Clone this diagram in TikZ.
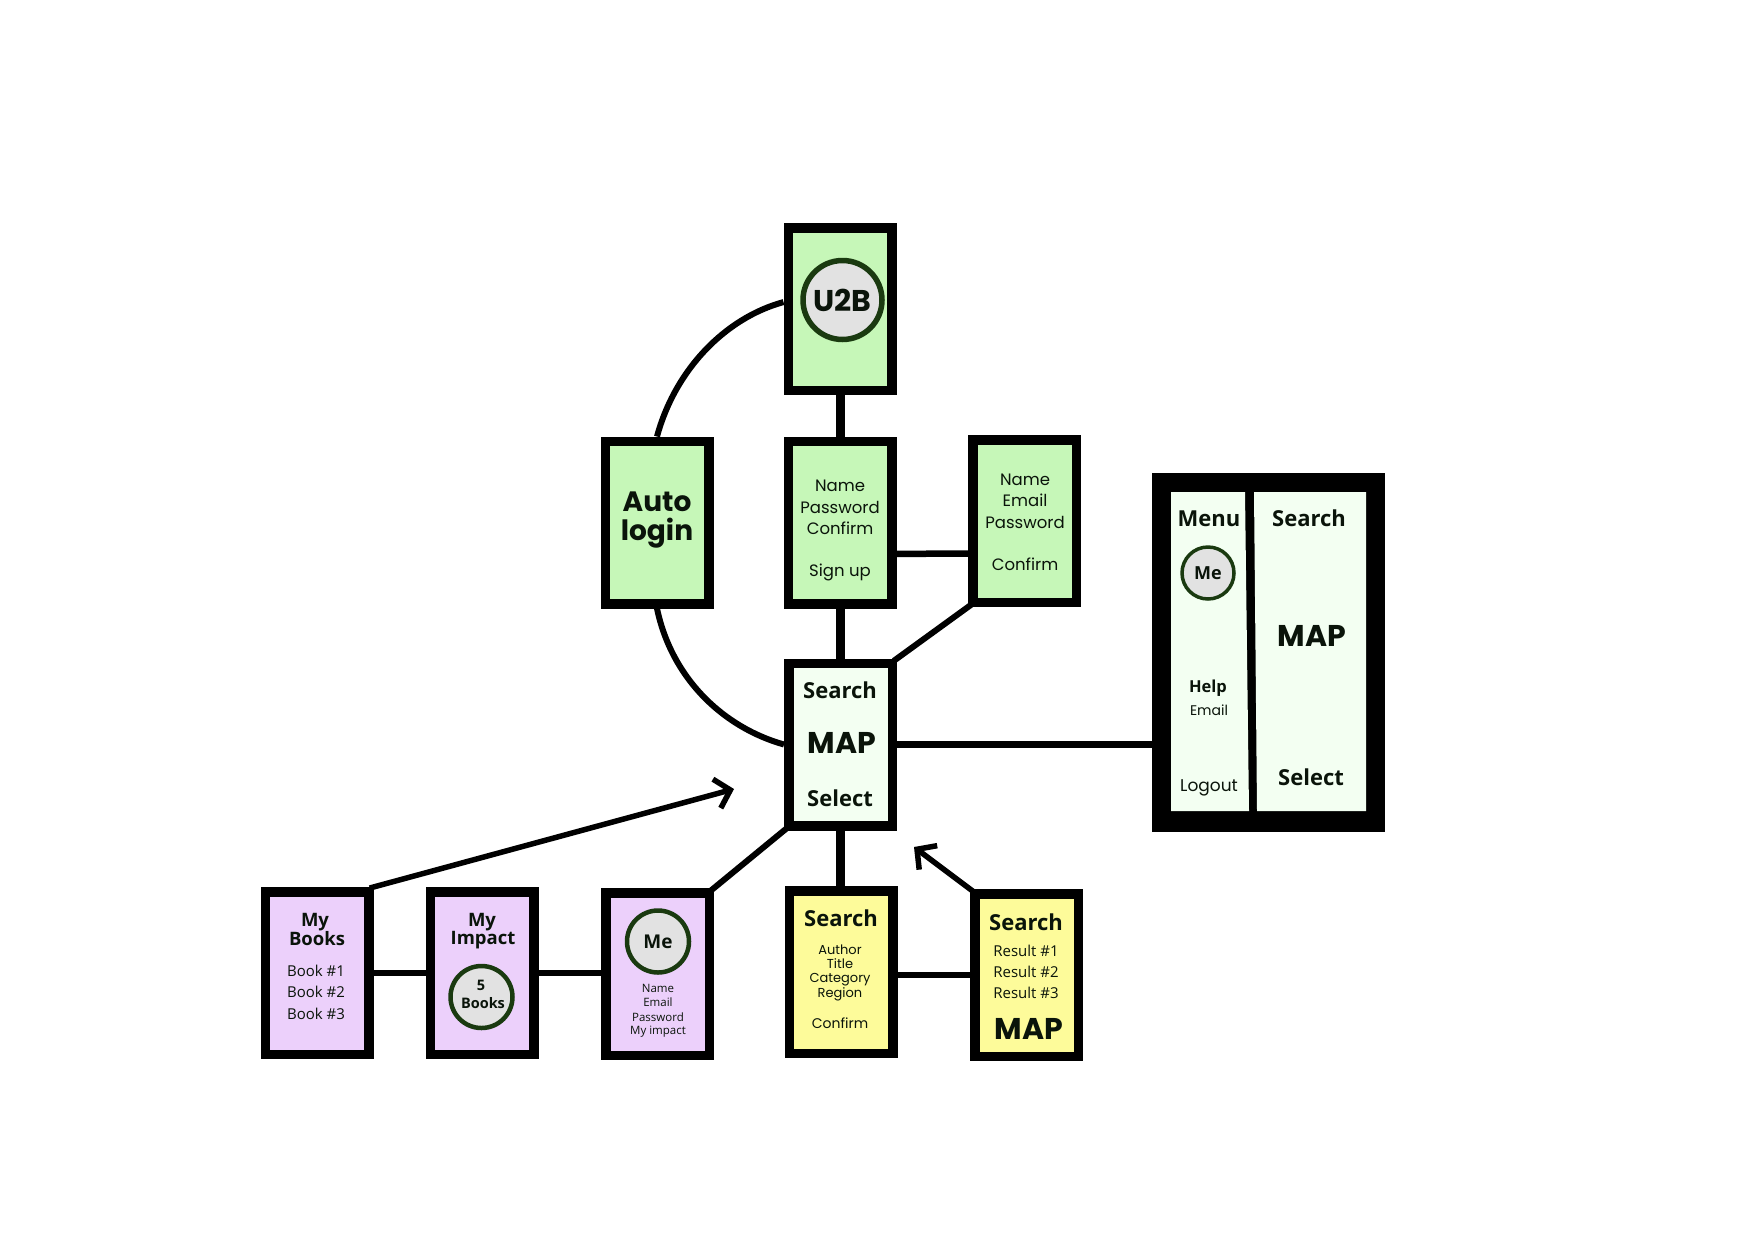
\documentclass[tikz,border=0pt]{standalone}
\usepackage{fontspec}
\setmainfont{Open Sans}
\newfontfamily\geo{Poppins}
\newfontfamily\opn{Open Sans}
\usetikzlibrary{backgrounds,arrows.meta}
\definecolor{cgreen}{HTML}{C6F7B8}
\definecolor{cpale}{HTML}{F3FFF2}
\definecolor{cpurple}{HTML}{ECD0FB}
\definecolor{cyellow}{HTML}{FDFB9A}
\definecolor{cring}{HTML}{1A3A10}
\definecolor{cdisc}{HTML}{E2E2E2}
\definecolor{cink}{HTML}{0A140A}
\tikzset{
  x=1pt,y=-1pt,
  screen/.style={draw=black,line width=9.5pt,minimum width=103.5pt,minimum height=162.5pt,inner sep=0pt,fill=#1},
  disc/.style={circle,draw=cring,fill=cdisc,inner sep=0pt,line width=#1},
  txt/.style={inner sep=0pt,text=cink},
  geol/.style={txt,font=\geo\fontsize{#1}{#1}\selectfont},
  geob/.style={txt,font=\geo\bfseries\fontsize{#1}{#1}\selectfont},
  opnl/.style={txt,font=\opn\fontsize{#1}{#1}\selectfont},
  opnh/.style={txt,font=\opn\bfseries\fontsize{#1}{#1}\selectfont},
  thick link/.style={draw=black,line width=9pt},
  thin link/.style={draw=black,line width=6.5pt},
  slant link/.style={draw=black,line width=6pt,shorten >=-4pt,shorten <=-4pt},
  curve link/.style={draw=black,line width=6pt},
  arrow link/.style={draw=black,line width=5.5pt,shorten <=-4pt,-{Straight Barb[length=14pt,width=30pt,line width=5.5pt]}},
}
\begin{document}
\begin{tikzpicture}
\useasboundingbox (0,0) rectangle (1753,1240);
% screens
\node[screen=cgreen]  (u2b)   at (840,309) {};
\node[screen=cgreen]  (auto)  at (657,522.5) {};
\node[screen=cgreen]  (name)  at (840,522.5) {};
\node[screen=cgreen]  (email) at (1024.5,521) {};
\node[screen=cpale]   (map)   at (840.5,744.5) {};
\node[screen=cyellow] (srch)  at (841,972) {};
\node[screen=cyellow] (res)   at (1026.5,975) {};
\node[screen=cpurple] (books) at (317,973) {};
\node[screen=cpurple] (impact) at (482,973) {};
\node[screen=cpurple] (me)    at (657.5,974) {};
\node[draw=black,fill=black,line width=0pt,minimum width=232pt,minimum height=358pt,inner sep=0pt] (big) at (1268,652) {};
\fill[cpale] (1171,492) -- (1245,492) -- (1249,811) -- (1171,811) -- cycle;
\fill[cpale] (1254,492) -- (1366,492) -- (1366,811) -- (1257,811) -- cycle;
% free arrow ends
\coordinate (tipa) at (734,789);
\coordinate (tipb) at (914,847);
% connectors
\begin{scope}[on background layer]
\draw[thick link] (u2b.south) -- (name.north);
\draw[thick link] (name.south) -- (name.south |- map.north);
\draw[thick link] (map.south) -- (map.south |- srch.north);
\draw[thin link] (name.-29.5) -- (email.-150);
\draw[slant link] (email.south west) -- (map.north east);
\draw[thin link] (map.east) -- (big.west |- map.east);
\draw[slant link] (map.south west) -- (me.north east);
\draw[thin link] (books.east) -- (impact.west);
\draw[thin link] (impact.east) -- (impact.east -| me.west);
\draw[thin link] (srch.east |- res.west) -- (res.west);
\draw[curve link] (auto.north) .. controls (675,370) and (725,318) .. (u2b.173);
\draw[curve link] (auto.south) .. controls (672,680) and (725,728) .. (map.west);
\draw[arrow link] (books.north east) -- (tipa);
\draw[arrow link] (res.north west) -- (tipb);
\end{scope}
% discs
\node[disc=5.5pt,minimum size=79pt,geob=30] (du2b) at (842.5,300) {U2B};
\node[disc=4.5pt,minimum size=62pt,opnh=19] (dme) at (658,941.5) {Me};
\node[disc=4.5pt,minimum size=62pt] (dbooks) at (481.5,997) {};
\node[disc=3.5pt,minimum size=52pt,opnh=18] (dbig) at (1208,573) {Me};
% auto login
\node[geob=28] (t1) at (657,502) {Auto};
\node[geob=28] (t2) at (657,533) {login};
% name
\node[geol=16.5] (t3) at (840,486) {Name};
\node[geol=16.5] (t4) at (840,507) {Password};
\node[geol=16.5] (t5) at (840,528) {Confirm};
\node[geol=16.5] (t6) at (840,572) {Sign up};
% email
\node[geol=16.5] (t7) at (1025,480) {Name};
\node[geol=16.5] (t8) at (1025,500) {Email};
\node[geol=16.5] (t9) at (1025,522) {Password};
\node[geol=16.5] (t10) at (1025,564) {Confirm};
% map
\node[opnh=22] (t11) at (840,690) {Search};
\node[geob=30] (t12) at (842,743) {MAP};
\node[opnh=22] (t13) at (840,798) {Select};
% search form
\node[geol=13] (t15) at (840,950) {Author};
\node[opnh=22] (t14) at (841,918) {Search};
\node[geol=13] (t16) at (840,964) {Title};
\node[geol=13] (t17) at (840,980) {Category};
\node[geol=13] (t18) at (840,994) {Region};
\node[geol=14] (t19) at (840,1023) {Confirm};
% results
\node[opnh=22] (t20) at (1026,922) {Search};
\node[opnl=15] (t21) at (1026,951) {Result \#1};
\node[opnl=15] (t22) at (1026,972) {Result \#2};
\node[opnl=15] (t23) at (1026,993) {Result \#3};
\node[geob=30] (t24) at (1029,1029) {MAP};
% my books
\node[opnh=18.5] (t25) at (315,922) {My};
\node[opnh=18.5] (t26) at (317,939) {Books};
\node[opnl=15] (t27) at (316,971) {Book \#1};
\node[opnl=15] (t28) at (316,992) {Book \#2};
\node[opnl=15] (t29) at (316,1014) {Book \#3};
% my impact
\node[opnh=18.5] (t30) at (482,922) {My};
\node[opnh=18.5] (t31) at (483,940) {Impact};
\node[opnh=14.5] (t32) at (481,985) {5};
\node[opnh=14.5] (t33) at (483,1003) {Books};
% me
\node[opnl=11.5] (t34) at (658,988) {Name};
\node[opnl=11.5] (t35) at (658,1002) {Email};
\node[opnl=11.5] (t36) at (658,1017) {Password};
\node[opnl=11.5] (t37) at (658,1032) {My impact};
% big
\node[opnh=22] (t38) at (1209,519) {Menu};
\node[opnh=16.5] (t39) at (1208,688) {Help};
\node[geol=14] (t40) at (1209,710) {Email};
\node[geol=17] (t41) at (1209,788) {Logout};
\node[opnh=22] (t42) at (1309,518) {Search};
\node[geob=30] (t43) at (1312,636) {MAP};
\node[opnh=22] (t44) at (1311,777) {Select};
\end{tikzpicture}
\end{document}
